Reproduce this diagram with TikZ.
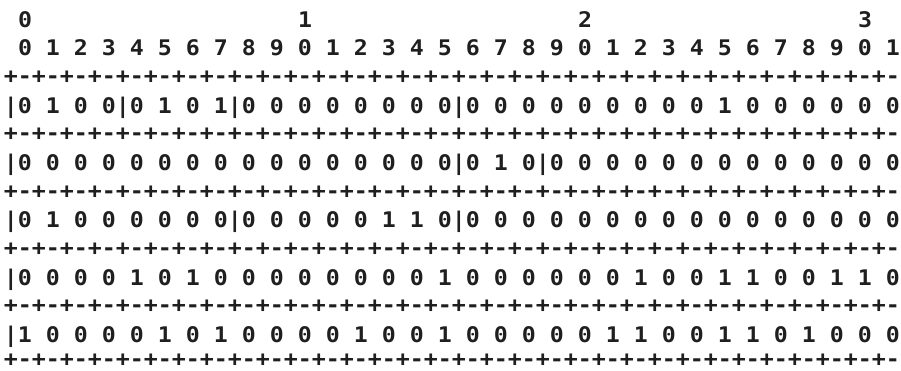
\documentclass[tikz,border=0pt]{standalone}
\usepackage{fontspec}
\newfontfamily\bitmono[FakeStretch=1.0815]{DejaVu Sans Mono Bold}
\begin{document}
\begin{tikzpicture}[x=1pt,y=-1pt,
  txt/.style={font=\bitmono\fontsize{21.5}{26}\selectfont, anchor=base west, inner sep=0pt, outer sep=0pt, text=black!88},
  seprow/.style={txt}]
\useasboundingbox (0,0) rectangle (901,370);
\fill[white] (0,0) rectangle (901,370);
% tens of bit numbers
\node[txt] (t0) at (18,{27.3}) {0};
\node[txt] (t1) at (298,{27.3}) {1};
\node[txt] (t2) at (578,{27.3}) {2};
\node[txt] (t3) at (858,{27.3}) {3};
% units of bit numbers
\node[txt] (u) at (18,{27.3+28.64*1}) {0 1 2 3 4 5 6 7 8 9 0 1 2 3 4 5 6 7 8 9 0 1 2 3 4 5 6 7 8 9 0 1};
% separators and rows
\node[seprow] (s0) at (4,{26.4+28.64*2}) {+-+-+-+-+-+-+-+-+-+-+-+-+-+-+-+-+-+-+-+-+-+-+-+-+-+-+-+-+-+-+-+-};
\node[txt] (r1) at (4,{27.3+28.64*3}) {|0 1 0 0|0 1 0 1|0 0 0 0 0 0 0 0|0 0 0 0 0 0 0 0 0 1 0 0 0 0 0 0};
\node[seprow] (s1) at (4,{26.4+28.64*4}) {+-+-+-+-+-+-+-+-+-+-+-+-+-+-+-+-+-+-+-+-+-+-+-+-+-+-+-+-+-+-+-+-};
\node[txt] (r2) at (4,{27.3+28.64*5}) {|0 0 0 0 0 0 0 0 0 0 0 0 0 0 0 0|0 1 0|0 0 0 0 0 0 0 0 0 0 0 0 0};
\node[seprow] (s2) at (4,{26.4+28.64*6}) {+-+-+-+-+-+-+-+-+-+-+-+-+-+-+-+-+-+-+-+-+-+-+-+-+-+-+-+-+-+-+-+-};
\node[txt] (r3) at (4,{27.3+28.64*7}) {|0 1 0 0 0 0 0 0|0 0 0 0 0 1 1 0|0 0 0 0 0 0 0 0 0 0 0 0 0 0 0 0};
\node[seprow] (s3) at (4,{26.4+28.64*8}) {+-+-+-+-+-+-+-+-+-+-+-+-+-+-+-+-+-+-+-+-+-+-+-+-+-+-+-+-+-+-+-+-};
\node[txt] (r4) at (4,{27.3+28.64*9}) {|0 0 0 0 1 0 1 0 0 0 0 0 0 0 0 1 0 0 0 0 0 0 1 0 0 1 1 0 0 1 1 0};
\node[seprow] (s4) at (4,{26.4+28.64*10}) {+-+-+-+-+-+-+-+-+-+-+-+-+-+-+-+-+-+-+-+-+-+-+-+-+-+-+-+-+-+-+-+-};
\node[txt] (r5) at (4,{27.3+28.64*11}) {|1 0 0 0 0 1 0 1 0 0 0 0 1 0 0 1 0 0 0 0 0 1 1 0 0 1 1 0 1 0 0 0};
\node[seprow] (s5) at (4,366.5) {+-+-+-+-+-+-+-+-+-+-+-+-+-+-+-+-+-+-+-+-+-+-+-+-+-+-+-+-+-+-+-+-};
\end{tikzpicture}
\end{document}
